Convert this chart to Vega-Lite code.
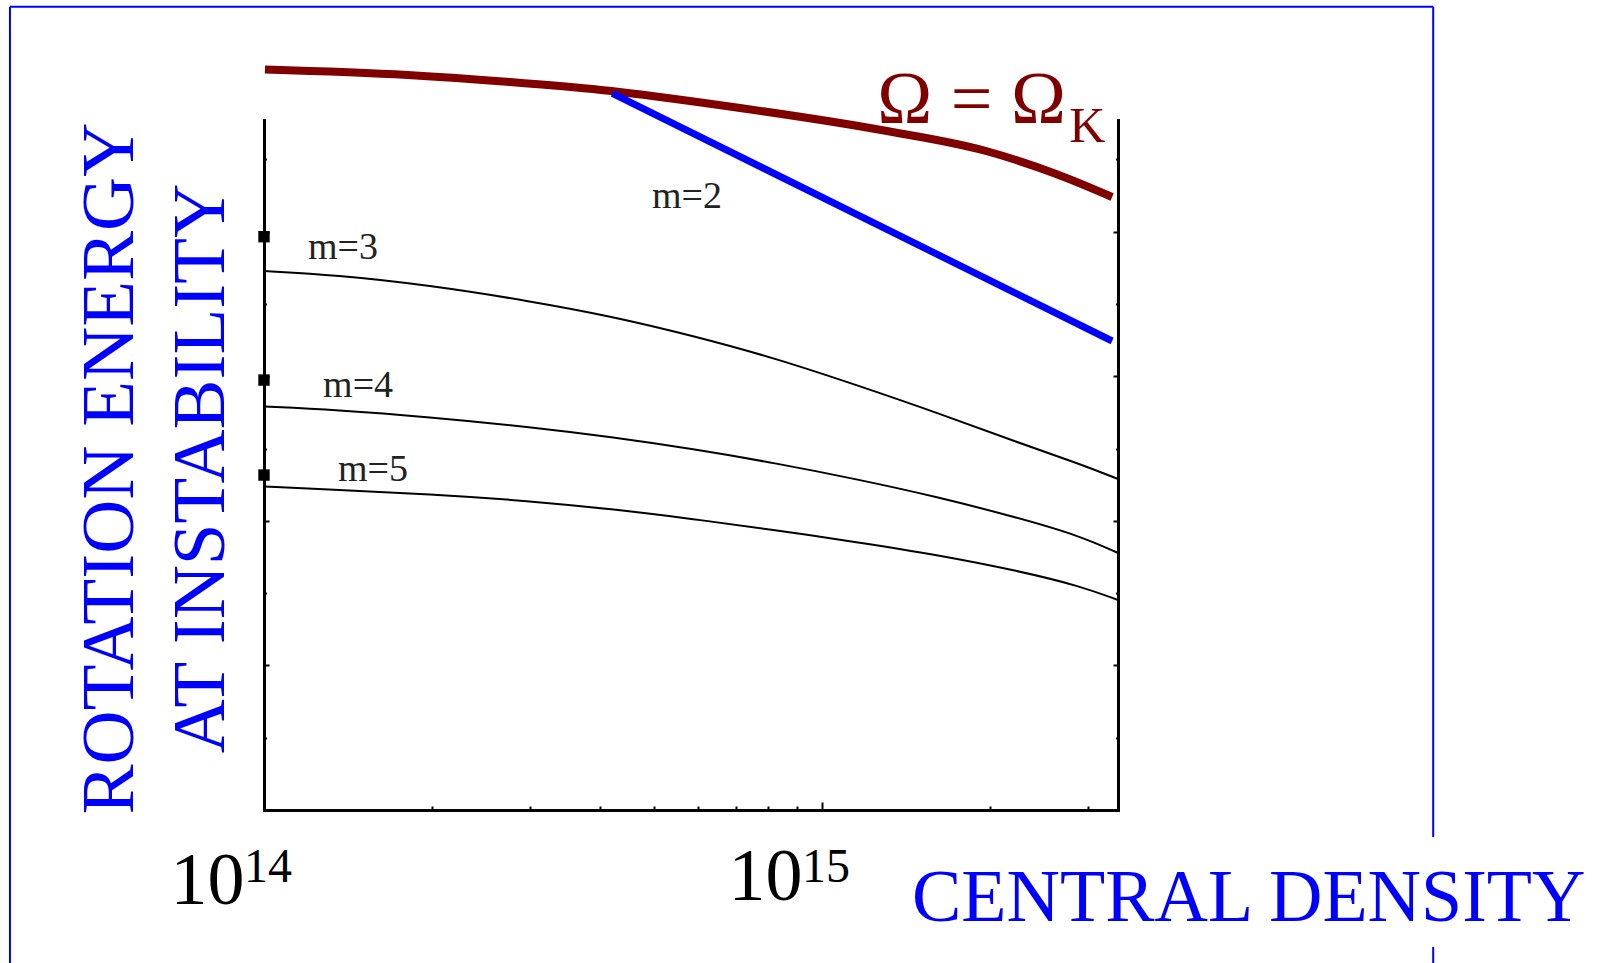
{
  "$schema": "https://vega.github.io/schema/vega-lite/v6.json",
  "width": 854,
  "height": 690,
  "autosize": {"type": "none"},
  "padding": {"left": 264, "top": 120, "right": 480, "bottom": 153},
  "background": "white",
  "config": {"view": {"stroke": null}, "axis": {"grid": false}},
  "datasets": {
    "curves": [
      {"curve": "kepler", "rho": 1.004e14, "erot": 10.242},
      {"curve": "kepler", "rho": 1.81e14, "erot": 10.166},
      {"curve": "kepler", "rho": 2.76e14, "erot": 10.069},
      {"curve": "kepler", "rho": 4.018e14, "erot": 9.959},
      {"curve": "kepler", "rho": 7.129e14, "erot": 9.71},
      {"curve": "kepler", "rho": 1.276e15, "erot": 9.405},
      {"curve": "kepler", "rho": 1.967e15, "erot": 9.115},
      {"curve": "kepler", "rho": 2.627e15, "erot": 8.797},
      {"curve": "kepler", "rho": 3.309e15, "erot": 8.479},
      {"curve": "m=2", "rho": 4.209e14, "erot": 9.913},
      {"curve": "m=2", "rho": 3.309e15, "erot": 6.487},
      {"curve": "m=3", "rho": 1.0e14, "erot": 7.455},
      {"curve": "m=3", "rho": 1.346e14, "erot": 7.4},
      {"curve": "m=3", "rho": 1.968e14, "erot": 7.261},
      {"curve": "m=3", "rho": 2.997e14, "erot": 7.04},
      {"curve": "m=3", "rho": 4.187e14, "erot": 6.83},
      {"curve": "m=3", "rho": 5.873e14, "erot": 6.56},
      {"curve": "m=3", "rho": 8.236e14, "erot": 6.25},
      {"curve": "m=3", "rho": 1.151e15, "erot": 5.88},
      {"curve": "m=3", "rho": 1.614e15, "erot": 5.49},
      {"curve": "m=3", "rho": 2.254e15, "erot": 5.076},
      {"curve": "m=3", "rho": 2.9e15, "erot": 4.786},
      {"curve": "m=3", "rho": 3.39e15, "erot": 4.578},
      {"curve": "m=4", "rho": 1.0e14, "erot": 5.581},
      {"curve": "m=4", "rho": 1.346e14, "erot": 5.533},
      {"curve": "m=4", "rho": 1.968e14, "erot": 5.436},
      {"curve": "m=4", "rho": 2.997e14, "erot": 5.297},
      {"curve": "m=4", "rho": 4.187e14, "erot": 5.159},
      {"curve": "m=4", "rho": 5.873e14, "erot": 4.993},
      {"curve": "m=4", "rho": 8.236e14, "erot": 4.799},
      {"curve": "m=4", "rho": 1.151e15, "erot": 4.578},
      {"curve": "m=4", "rho": 1.614e15, "erot": 4.329},
      {"curve": "m=4", "rho": 2.254e15, "erot": 4.039},
      {"curve": "m=4", "rho": 2.9e15, "erot": 3.79},
      {"curve": "m=4", "rho": 3.39e15, "erot": 3.555},
      {"curve": "m=5", "rho": 1.0e14, "erot": 4.474},
      {"curve": "m=5", "rho": 1.346e14, "erot": 4.426},
      {"curve": "m=5", "rho": 1.968e14, "erot": 4.371},
      {"curve": "m=5", "rho": 2.997e14, "erot": 4.274},
      {"curve": "m=5", "rho": 4.187e14, "erot": 4.163},
      {"curve": "m=5", "rho": 5.873e14, "erot": 4.025},
      {"curve": "m=5", "rho": 8.236e14, "erot": 3.873},
      {"curve": "m=5", "rho": 1.151e15, "erot": 3.707},
      {"curve": "m=5", "rho": 1.614e15, "erot": 3.527},
      {"curve": "m=5", "rho": 2.254e15, "erot": 3.306},
      {"curve": "m=5", "rho": 2.9e15, "erot": 3.098},
      {"curve": "m=5", "rho": 3.39e15, "erot": 2.905}
    ],
    "onset": [
      {"mode": "m=3", "rho": 1.0e14, "erot": 7.93},
      {"mode": "m=4", "rho": 1.0e14, "erot": 5.947},
      {"mode": "m=5", "rho": 1.0e14, "erot": 4.633}
    ],
    "modeLabels": [
      {"label": "m=2", "rho": 4.958e14, "erot": 8.326},
      {"label": "m=3", "rho": 1.199e14, "erot": 7.621},
      {"label": "m=4", "rho": 1.276e14, "erot": 5.712},
      {"label": "m=5", "rho": 1.357e14, "erot": 4.55}
    ],
    "keplerLabel": [
      {"label": "Ω = Ω", "rho": 1.255e15, "erot": 9.502}
    ],
    "keplerSub": [
      {"label": "K", "rho": 2.771e15, "erot": 9.239}
    ],
    "exponents": [
      {"label": "14", "rho": 1.0e14, "erot": -0.996},
      {"label": "15", "rho": 1.0e15, "erot": -0.996}
    ],
    "frame": [
      {"rho": 3.506e13, "rho2": 1.2444e16, "erot": 11.11, "erot2": 11.11},
      {"rho": 3.506e13, "rho2": 3.506e13, "erot": 11.11, "erot2": -2.2},
      {"rho": 1.2444e16, "rho2": 1.2444e16, "erot": 11.11, "erot2": -0.373},
      {"rho": 1.2444e16, "rho2": 1.2444e16, "erot": -1.895, "erot2": -2.2}
    ]
  },
  "encoding": {
    "x": {
      "field": "rho",
      "type": "quantitative",
      "scale": {"type": "log", "domain": [1e14, 3.39e15], "nice": false},
      "axis": {
        "orient": "bottom",
        "values": [1e14, 2e14, 3e14, 4e14, 5e14, 6e14, 7e14, 8e14, 9e14, 1e15, 2e15, 3e15],
        "grid": false,
        "domainColor": "black",
        "domainWidth": 3,
        "domainCap": "square",
        "tickColor": "black",
        "tickWidth": 2,
        "tickSize": {"condition": {"test": "datum.value == 1e15", "value": -8}, "value": -4},
        "labelExpr": "datum.value == 1e14 || datum.value == 1e15 ? '10' : ''",
        "labelFont": "Liberation Serif",
        "labelFontSize": 74,
        "labelColor": "black",
        "labelAlign": "right",
        "labelBaseline": "alphabetic",
        "labelOffset": -20,
        "labelPadding": 97,
        "labelFlush": false,
        "labelOverlap": false,
        "labelBound": false,
        "title": "CENTRAL DENSITY",
        "titleFont": "Liberation Serif",
        "titleFontSize": 74,
        "titleFontWeight": "normal",
        "titleColor": "#0000FF",
        "titleX": 1321,
        "titleY": 110,
        "titleAlign": "right",
        "titleBaseline": "alphabetic",
        "titleAngle": 0
      }
    },
    "y": {
      "field": "erot",
      "type": "quantitative",
      "scale": {"domain": [0, 9.544], "nice": false, "zero": false},
      "axis": null
    }
  },
  "resolve": {"axis": {"y": "independent"}},
  "layer": [
    {
      "data": {"name": "frame"},
      "mark": {"type": "rule", "color": "#0000FF", "strokeWidth": 2},
      "encoding": {
        "x2": {"field": "rho2"},
        "y2": {"field": "erot2"}
      }
    },
    {
      "data": {"name": "curves"},
      "transform": [{"filter": "datum.curve == 'm=3' || datum.curve == 'm=4' || datum.curve == 'm=5'"}],
      "mark": {"type": "line", "color": "black", "strokeWidth": 2, "interpolate": "basis"},
      "encoding": {
        "detail": {"field": "curve"},
        "y": {
          "field": "erot",
          "type": "quantitative",
          "scale": {"domain": [0, 9.544], "nice": false, "zero": false},
          "axis": {
            "orient": "left",
            "values": [0, 1, 2, 3, 4, 5, 6, 7, 8, 9],
            "grid": false,
            "labels": false,
            "domainColor": "black",
            "domainWidth": 3,
            "domainCap": "square",
            "tickColor": "black",
            "tickWidth": 2,
            "tickSize": {"condition": {"test": "datum.value % 2 == 0", "value": -5}, "value": -2.5},
            "title": ["ROTATION ENERGY", "AT INSTABILITY"],
            "titleFont": "Liberation Serif",
            "titleFontSize": 75,
            "titleFontWeight": "normal",
            "titleColor": "#0000FF",
            "titleAngle": -90,
            "titleAlign": "center",
            "titleBaseline": "alphabetic",
            "titleLineHeight": 91,
            "titleX": -132,
            "titleY": 348
          }
        }
      }
    },
    {
      "data": {"name": "curves"},
      "transform": [{"filter": "datum.curve == 'kepler'"}],
      "mark": {"type": "line", "color": "#800000", "strokeWidth": 8, "interpolate": "monotone"},
      "encoding": {
        "y": {
          "field": "erot",
          "type": "quantitative",
          "scale": {"domain": [0, 9.544], "nice": false, "zero": false},
          "axis": {
            "orient": "right",
            "values": [0, 1, 2, 3, 4, 5, 6, 7, 8, 9],
            "grid": false,
            "labels": false,
            "domainColor": "black",
            "domainWidth": 3,
            "domainCap": "square",
            "tickColor": "black",
            "tickWidth": 2,
            "tickSize": {"condition": {"test": "datum.value % 2 == 0", "value": -5}, "value": -2.5},
            "title": null
          }
        }
      }
    },
    {
      "data": {"name": "curves"},
      "transform": [{"filter": "datum.curve == 'm=2'"}],
      "mark": {"type": "line", "color": "#0000FF", "strokeWidth": 7}
    },
    {
      "data": {"name": "onset"},
      "mark": {"type": "point", "shape": "square", "filled": true, "color": "black", "size": 130, "opacity": 1}
    },
    {
      "data": {"name": "modeLabels"},
      "mark": {"type": "text", "font": "Liberation Serif", "fontSize": 38, "color": "#222222", "align": "left", "baseline": "alphabetic"},
      "encoding": {"text": {"field": "label"}}
    },
    {
      "data": {"name": "keplerLabel"},
      "mark": {"type": "text", "font": "Liberation Serif", "fontSize": 74, "color": "#800000", "align": "left", "baseline": "alphabetic"},
      "encoding": {"text": {"field": "label"}}
    },
    {
      "data": {"name": "keplerSub"},
      "mark": {"type": "text", "font": "Liberation Serif", "fontSize": 50, "color": "#800000", "align": "left", "baseline": "alphabetic"},
      "encoding": {"text": {"field": "label"}}
    },
    {
      "data": {"name": "exponents"},
      "mark": {"type": "text", "font": "Liberation Serif", "fontSize": 48, "color": "black", "align": "left", "baseline": "alphabetic", "dx": -20},
      "encoding": {"text": {"field": "label"}}
    }
  ]
}
